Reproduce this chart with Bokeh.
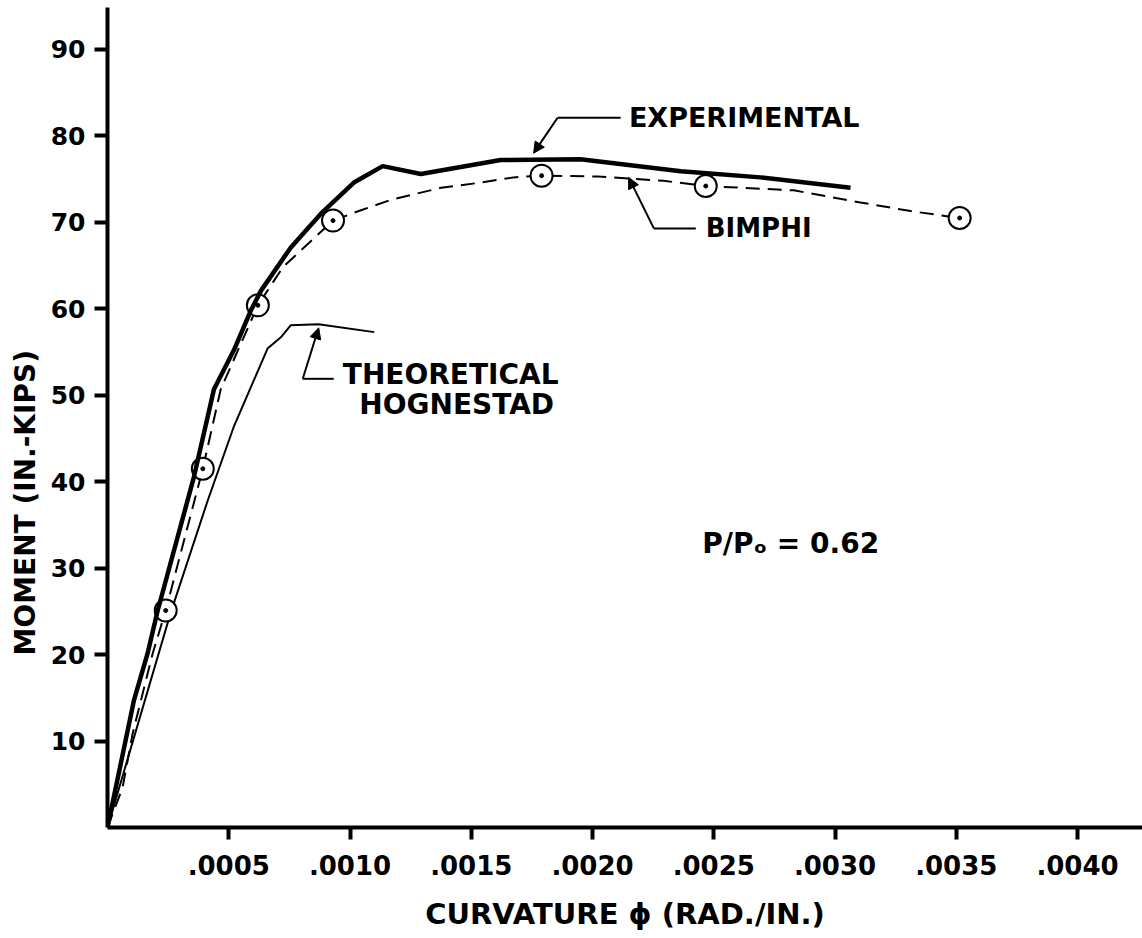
from bokeh.plotting import figure
from bokeh.models import FixedTicker, Label, Arrow, NormalHead, Range1d, Title
from bokeh.embed import file_html
from bokeh.resources import INLINE

# ---------------- data (curvature in rad/in, moment in in.-kips) ----------------
exp_curv = [0, 0.000109, 0.000165, 0.000207, 0.000356, 0.000439, 0.000521, 0.000591,
            0.000633, 0.000756, 0.00088, 0.001016, 0.001135, 0.001292, 0.001621,
            0.00195, 0.002364, 0.002693, 0.003064]
exp_mom = [0, 14.7, 20.1, 25.1, 40.5, 50.7, 55.2, 59.8,
           62.1, 67.1, 71.0, 74.6, 76.5, 75.6, 77.2,
           77.3, 75.9, 75.2, 74.0]

bim_curv = [0, 0.000062, 0.000104, 0.000186, 0.00024, 0.000393, 0.000467, 0.00062,
            0.000723, 0.00093, 0.001045, 0.001168, 0.001376, 0.00154, 0.001675,
            0.00179, 0.00202, 0.002293, 0.002467, 0.00283, 0.003105, 0.003312, 0.003514]
bim_mom = [0, 4.6, 10.9, 20.1, 25.1, 41.5, 50.7, 60.4,
           64.8, 70.2, 71.4, 72.6, 74.0, 74.6, 75.2,
           75.4, 75.3, 74.8, 74.2, 73.7, 72.3, 71.3, 70.5]

pts_curv = [0.00024, 0.000393, 0.00062, 0.00093, 0.00179, 0.002467, 0.003514]
pts_mom = [25.1, 41.5, 60.4, 70.2, 75.4, 74.2, 70.5]

theo_curv = [0, 0.00026, 0.000413, 0.00052, 0.00066, 0.000715, 0.000756, 0.00087, 0.0011]
theo_mom = [0, 24.8, 37.8, 46.3, 55.4, 56.7, 58.1, 58.2, 57.3]

x_ticks = [0.0005, 0.0010, 0.0015, 0.0020, 0.0025, 0.0030, 0.0035, 0.0040]
x_tick_labels = [".0005", ".0010", ".0015", ".0020", ".0025", ".0030", ".0035", ".0040"]
y_ticks = [10, 20, 30, 40, 50, 60, 70, 80, 90]
y_tick_labels = ["10", "20", "30", "40", "50", "60", "70", "80", "90"]

# annotation anchors (data units; text y = baseline)
exp_label = ("EXPERIMENTAL", 0.00215, 82.1)
exp_leader = [(0.002116, 82.1), (0.001856, 82.1), (0.001757, 78.0)]
bim_label = ("BIMPHI", 0.002467, 69.35)
bim_leader = [(0.002426, 69.3), (0.002253, 69.3), (0.002149, 75.2)]
theo_label1 = ("THEORETICAL", 0.001415, 52.45)
theo_label2 = ("HOGNESTAD", 0.00144, 48.95)
theo_leader = [(0.000933, 51.9), (0.000805, 51.9), (0.000871, 57.8)]
ratio_label = ("P/Pₒ = 0.62", 0.002817, 32.9)
y_title = "MOMENT (IN.-KIPS)"
x_title = "CURVATURE ϕ (RAD./IN.)"

FONT = "DejaVu Sans"

p = figure(width=1142, height=938, output_backend="svg", toolbar_location=None,
           x_range=Range1d(0, 0.004268), y_range=Range1d(0, 94.85),
           min_border_left=107, min_border_right=0, min_border_top=7, min_border_bottom=111)
p.outline_line_color = None
p.xgrid.visible = False
p.ygrid.visible = False
p.background_fill_color = "white"
p.border_fill_color = "white"

for ax in (p.xaxis[0], p.yaxis[0]):
    ax.axis_line_width = 4
    ax.axis_line_color = "black"
    ax.major_tick_line_width = 4
    ax.major_tick_line_color = "black"
    ax.major_tick_in = 0
    ax.minor_tick_line_color = None
    ax.major_label_text_font = FONT
    ax.major_label_text_font_style = "bold"
    ax.major_label_text_color = "black"

p.xaxis.ticker = FixedTicker(ticks=x_ticks)
p.xaxis.major_label_overrides = dict(zip(x_ticks, x_tick_labels))
p.xaxis.major_tick_out = 12
p.xaxis.major_label_text_font_size = "26px"
p.xaxis.major_label_standoff = 15
p.xaxis.axis_label = x_title
p.xaxis.axis_label_text_font = FONT
p.xaxis.axis_label_text_font_style = "bold"
p.xaxis.axis_label_text_font_size = "29px"
p.xaxis.axis_label_text_color = "black"
p.xaxis.axis_label_standoff = 19

p.yaxis.ticker = FixedTicker(ticks=y_ticks)
p.yaxis.major_label_overrides = dict(zip(y_ticks, y_tick_labels))
p.yaxis.major_tick_out = 13
p.yaxis.major_label_text_font_size = "25px"
p.yaxis.major_label_standoff = 9

p.add_layout(Title(text=y_title, align="left", offset=172, text_font=FONT,
                   text_font_style="bold", text_font_size="28px", text_color="black",
                   standoff=12), "left")

# curves
p.line(bim_curv, bim_mom, line_color="black", line_width=2, line_dash="14 8")
p.line(theo_curv, theo_mom, line_color="black", line_width=2)
p.scatter(pts_curv, pts_mom, marker="circle", size=22, line_color="black",
          line_width=2, fill_color="white")
p.scatter(pts_curv, pts_mom, marker="circle", size=4, line_color="black", fill_color="black")
p.line(exp_curv, exp_mom, line_color="black", line_width=4.5)

# leaders and arrows
for leader in (exp_leader, bim_leader, theo_leader):
    (x0, y0), (x1, y1), (x2, y2) = leader
    p.line([x0, x1], [y0, y1], line_color="black", line_width=2)
    p.add_layout(Arrow(x_start=x1, y_start=y1, x_end=x2, y_end=y2, line_width=2,
                       line_color="black",
                       end=NormalHead(size=11, fill_color="black", line_color="black")))

def add_text(spec, align="left", size="26px"):
    txt, x, y = spec
    p.add_layout(Label(x=x, y=y, text=txt, text_font=FONT, text_font_style="bold",
                       text_font_size=size, text_align=align, text_baseline="alphabetic",
                       text_color="black"))

add_text(exp_label, size="27px")
add_text(bim_label)
add_text(theo_label1, align="center", size="28px")
add_text(theo_label2, align="center", size="28px")
add_text(ratio_label, align="center", size="28px")

open("out.html", "w").write(file_html(p, INLINE))
